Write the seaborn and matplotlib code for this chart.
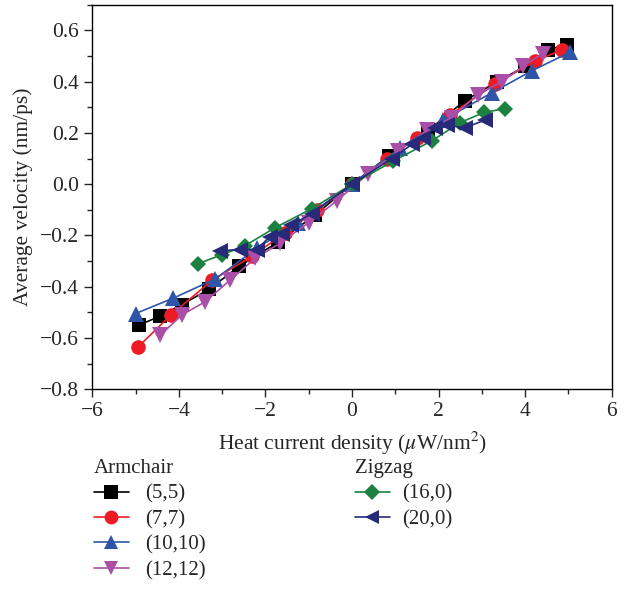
import numpy as np
import pandas as pd
import matplotlib.pyplot as plt
import seaborn as sns
from matplotlib.lines import Line2D
from matplotlib.ticker import MultipleLocator

# values
x_55 = [-4.92, -4.43, -3.93, -3.30, -2.60, -1.70, -0.85, 0.0, 0.85, 1.76, 2.60, 3.35, 4.00, 4.53, 4.96]
y_55 = [-0.55, -0.515, -0.47, -0.41, -0.32, -0.225, -0.12, 0.0, 0.11, 0.21, 0.325, 0.40, 0.46, 0.525, 0.545]

x_77 = [-4.94, -4.18, -3.23, -2.30, -1.55, -0.80, 0.0, 0.80, 1.50, 2.26, 3.30, 4.23, 4.85]
y_77 = [-0.635, -0.51, -0.375, -0.28, -0.19, -0.10, 0.0, 0.10, 0.18, 0.27, 0.39, 0.48, 0.525]

x_1010 = [-5.00, -4.13, -3.16, -2.20, -1.25, 0.0, 1.10, 2.10, 3.23, 4.16, 5.03]
y_1010 = [-0.505, -0.445, -0.37, -0.25, -0.15, 0.0, 0.14, 0.25, 0.357, 0.443, 0.515]

x_1212 = [-4.43, -3.93, -3.40, -2.82, -2.24, -1.66, -1.00, -0.35, 0.37, 1.07, 1.73, 2.30, 2.90, 3.46, 3.95, 4.40]
y_1212 = [-0.59, -0.51, -0.46, -0.375, -0.29, -0.23, -0.15, -0.065, 0.04, 0.13, 0.21, 0.26, 0.35, 0.40, 0.46, 0.51]

x_160 = [-3.55, -3.00, -2.47, -1.78, -0.92, 0.0, 0.95, 1.85, 2.49, 3.05, 3.53]
y_160 = [-0.31, -0.275, -0.24, -0.17, -0.095, 0.0, 0.09, 0.17, 0.24, 0.28, 0.295]

x_200 = [-3.05, -2.58, -2.20, -1.90, -1.62, -1.40, -0.93, 0.0, 0.92, 1.38, 1.64, 1.92, 2.20, 2.60, 3.07]
y_200 = [-0.26, -0.255, -0.255, -0.205, -0.195, -0.16, -0.115, 0.0, 0.10, 0.155, 0.18, 0.22, 0.23, 0.22, 0.25]

tubes = ['(5,5)', '(7,7)', '(10,10)', '(12,12)', '(16,0)', '(20,0)']
xs = [x_55, x_77, x_1010, x_1212, x_160, x_200]
ys = [y_55, y_77, y_1010, y_1212, y_160, y_200]

cores = {'(5,5)': '#000000', '(7,7)': '#ED1C24', '(10,10)': '#2E55A8',
         '(12,12)': '#A94FA8', '(16,0)': '#1B8040', '(20,0)': '#262A78'}
marcadores = {'(5,5)': 's', '(7,7)': 'o', '(10,10)': '^',
              '(12,12)': 'v', '(16,0)': 'D', '(20,0)': '<'}
tamanhos = {'(5,5)': 10, '(7,7)': 10.5, '(10,10)': 11,
            '(12,12)': 11, '(16,0)': 8.5, '(20,0)': 11}

dados = pd.concat([pd.DataFrame({'tube': t, 'x': x, 'y': y})
                   for t, x, y in zip(tubes, xs, ys)], ignore_index=True)

sns.set_style('ticks')
plt.rcParams['font.family'] = ['Liberation Serif', 'DejaVu Serif']
plt.rcParams['mathtext.fontset'] = 'stix'

fig = plt.figure(figsize=(6.32, 6.08), dpi=100)
ax = fig.add_axes([0.146, 0.36, 0.822, 0.632])

for t in tubes:
    sns.lineplot(data=dados[dados['tube'] == t], x='x', y='y', ax=ax,
                 color=cores[t], marker=marcadores[t], markersize=tamanhos[t],
                 markeredgewidth=0, linewidth=1.2, sort=False, legend=False)

ax.set_xlim(-6, 6)
ax.set_ylim(-0.8, 0.7)
ax.set_xticks([-6, -4, -2, 0, 2, 4, 6])
ax.set_yticks([-0.8, -0.6, -0.4, -0.2, 0.0, 0.2, 0.4, 0.6])
ax.set_xticklabels(['\u22126', '\u22124', '\u22122', '0', '2', '4', '6'])
ax.set_yticklabels(['\u22120.8', '\u22120.6', '\u22120.4', '\u22120.2', '0.0', '0.2', '0.4', '0.6'])
ax.xaxis.set_minor_locator(MultipleLocator(1))
ax.yaxis.set_minor_locator(MultipleLocator(0.1))
ax.tick_params(which='major', length=6, width=1, labelsize=15.5, direction='out')
ax.tick_params(which='minor', length=3.5, width=1, direction='out')
for s in ax.spines.values():
    s.set_linewidth(1)
    s.set_color('black')
ax.set_xlabel(r'Heat current density ($\mu$W/nm$^2$)', fontsize=15.5, labelpad=6)
ax.set_ylabel('Average velocity (nm/ps)', fontsize=15.5, labelpad=5)

def alca(t):
    return Line2D([], [], color=cores[t], marker=marcadores[t], markersize=tamanhos[t] * 0.95,
                  markeredgewidth=0, linewidth=1.2)

leg1 = fig.legend([alca(t) for t in tubes[:4]], tubes[:4], title='Armchair',
                  loc='upper left', bbox_to_anchor=(0.135, 0.258), frameon=False,
                  fontsize=15, title_fontsize=15, handlelength=1.7, handletextpad=0.75,
                  labelspacing=0.28, alignment='left', borderaxespad=0)
leg2 = fig.legend([alca(t) for t in tubes[4:]], tubes[4:], title='Zigzag',
                  loc='upper left', bbox_to_anchor=(0.548, 0.258), frameon=False,
                  fontsize=15, title_fontsize=15, handlelength=1.7, handletextpad=0.6,
                  labelspacing=0.28, alignment='left', borderaxespad=0)

fig.savefig('out.png', dpi=100)
